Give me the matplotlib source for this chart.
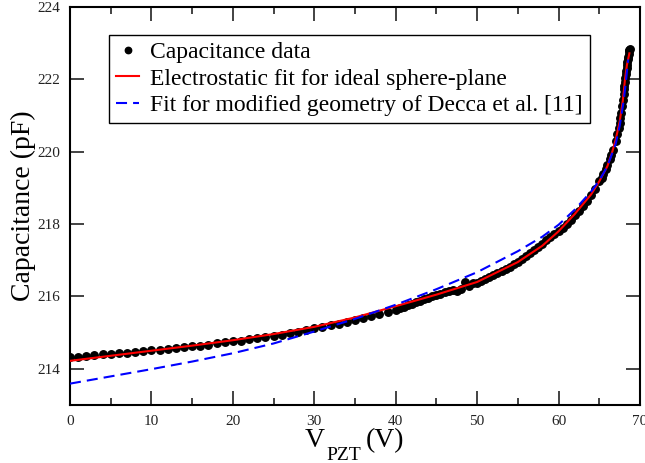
import numpy as np
import matplotlib
matplotlib.use('Agg')
import matplotlib.pyplot as plt
from matplotlib.ticker import MultipleLocator

plt.rcParams['font.family'] = 'Liberation Serif'

# capacitance data (1 V steps up to 40 V, then finer steps)
v_data = [0, 1, 2, 3, 4, 5, 6, 7, 8, 9, 10, 11, 12, 13, 14, 15, 16, 17, 18, 19,
          20, 21, 22, 23, 24, 25, 26, 27, 28, 29, 30, 31, 32, 33, 34, 35, 36, 37, 38, 39,
          40, 40.5, 41, 41.5, 42, 42.5, 43, 43.5, 44, 44.5, 45, 45.5, 46, 46.5, 47, 47.5,
          48, 48.5, 49, 49.5, 50, 50.5, 51, 51.5, 52, 52.5, 53, 53.5, 54, 54.5, 55, 55.5,
          56, 56.5, 57, 57.5, 58, 58.5, 59, 59.5, 60, 60.5, 61, 61.5, 62, 62.5, 63, 63.5,
          64, 64.5, 65, 65.3, 65.5, 65.8, 66, 66.3, 66.5, 66.7, 67, 67.2, 67.4, 67.5,
          67.6, 67.7, 67.8, 67.9, 68, 68.05, 68.1, 68.15, 68.2, 68.25, 68.3, 68.35,
          68.4, 68.45, 68.5, 68.55, 68.6, 68.65, 68.7, 68.75]
c_data = [214.32, 214.34, 214.36, 214.38, 214.40, 214.41, 214.43, 214.45, 214.47, 214.49,
          214.51, 214.53, 214.56, 214.58, 214.60, 214.62, 214.64, 214.67, 214.70, 214.73,
          214.76, 214.78, 214.81, 214.84, 214.87, 214.90, 214.94, 214.98, 215.02, 215.07,
          215.12, 215.16, 215.20, 215.25, 215.30, 215.35, 215.40, 215.45, 215.51, 215.58,
          215.63, 215.68, 215.72, 215.76, 215.80, 215.84, 215.88, 215.92, 215.96, 216.00,
          216.03, 216.07, 216.11, 216.15, 216.18, 216.16, 216.20, 216.40, 216.30, 216.36,
          216.38, 216.43, 216.48, 216.53, 216.58, 216.64, 216.70, 216.76, 216.82, 216.89,
          216.96, 217.03, 217.11, 217.19, 217.27, 217.36, 217.45, 217.55, 217.65, 217.72,
          217.80, 217.90, 218.00, 218.12, 218.25, 218.37, 218.50, 218.65, 218.80, 218.98,
          219.18, 219.28, 219.38, 219.52, 219.62, 219.80, 219.92, 220.05, 220.30, 220.48,
          220.66, 220.80, 220.92, 221.06, 221.25, 221.42, 221.60, 221.72, 221.83, 221.94,
          222.05, 222.14, 222.23, 222.32, 222.40, 222.48, 222.56, 222.63, 222.70, 222.77,
          222.82, 222.85]

# electrostatic fit, ideal sphere-plane
v_fit = [0, 5, 10, 15, 20, 25, 30, 35, 40, 45, 50, 55, 58, 60, 62, 64, 65, 66,
         66.6, 67, 67.5, 67.9, 68.15, 68.4, 68.7]
c_fit = [214.22, 214.36, 214.50, 214.64, 214.79, 214.96, 215.16, 215.42, 215.73,
         216.05, 216.40, 216.95, 217.40, 217.80, 218.28, 218.82, 219.18, 219.60,
         220.00, 220.32, 220.82, 221.42, 221.98, 222.40, 222.72]

# fit for modified geometry (Decca et al.)
v_mod = [0, 5, 10, 15, 20, 25, 30, 35, 40, 45, 50, 55, 58, 60, 62, 64, 65, 66,
         67, 67.5, 68, 68.3, 68.55]
c_mod = [213.59, 213.79, 213.99, 214.20, 214.43, 214.70, 215.03, 215.38, 215.77,
         216.20, 216.67, 217.25, 217.65, 217.98, 218.40, 218.90, 219.20, 219.60,
         220.20, 220.70, 221.40, 222.00, 222.55]

fig = plt.figure(figsize=(6.45, 4.63), dpi=100)
ax = fig.add_axes([0.1085, 0.1253, 0.8837, 0.8596])

ax.plot(v_data, c_data, 'o', color='black', markersize=5.4, label='Capacitance data', zorder=2)
ax.plot(v_fit, c_fit, '-', color='#ff0000', lw=1.5,
        label='Electrostatic fit for ideal sphere-plane', zorder=3)
ax.plot(v_mod, c_mod, '--', color='#0000ff', lw=1.5, dashes=(5.3, 2.9),
        label='Fit for modified geometry of Decca et al. [11]', zorder=4)

ax.set_xlim(0, 70)
ax.set_ylim(213, 224)
ax.xaxis.set_major_locator(MultipleLocator(10))
ax.xaxis.set_minor_locator(MultipleLocator(5))
ax.set_yticks([214, 216, 218, 220, 222, 224])
ax.tick_params(which='both', direction='in', top=True, right=True, width=1.2,
               labelsize=11, colors='#222222')
ax.tick_params(which='major', length=10, pad=7)
ax.tick_params(which='minor', length=5)
for s in ax.spines.values():
    s.set_linewidth(1.5)

ax.set_ylabel('Capacitance (pF)', fontsize=20, labelpad=1)
# x label built by hand so the subscript sits low as in the original
fig.text(305 / 645, 1 - 447 / 463, 'V', fontsize=20, ha='left', va='baseline')
fig.text(326 / 645, 1 - 460 / 463, 'PZT', fontsize=14, ha='left', va='baseline')
fig.text(366 / 645, 1 - 447 / 463, '(V)', fontsize=20, ha='left', va='baseline')

leg = ax.legend(loc='upper left', bbox_to_anchor=(0.068, 0.93), fontsize=17,
                frameon=True, fancybox=False, edgecolor='black', framealpha=1,
                handlelength=1.0, handletextpad=0.45, borderpad=0.3,
                labelspacing=0.2, markerscale=0.85, borderaxespad=0)
leg.get_frame().set_linewidth(1.0)

fig.savefig('out.png', dpi=100)
